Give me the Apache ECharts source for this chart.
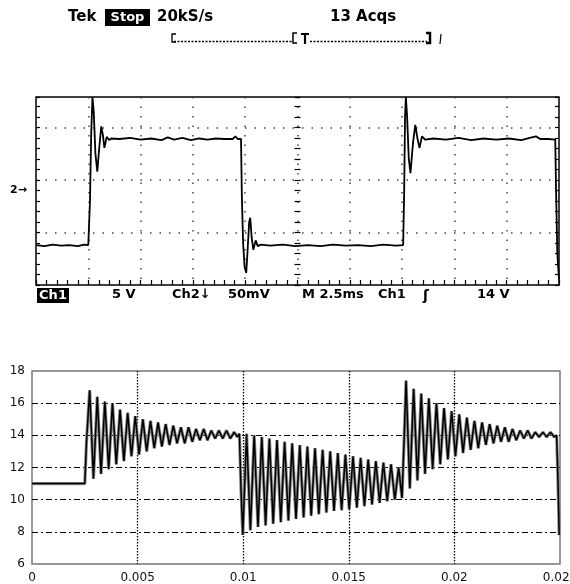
<!DOCTYPE html>
<html>
<head>
<meta charset="utf-8">
<title>Scope capture and simulated response</title>
<script src="https://cdn.jsdelivr.net/npm/echarts@6.0.0/dist/echarts.min.js"></script>
<style>
  html, body { margin: 0; padding: 0; background: #fff; }
  #chart { width: 570px; height: 584px; }
</style>
</head>
<body>
<div id="chart"></div>
<script>
// ---- Oscilloscope capture: time in ms (2.5 ms/div), level in divisions above bottom edge
const scopeTrace = [
  [0, 0.76], [0.4, 0.74], [0.8, 0.77], [1.2, 0.75], [1.6, 0.76], [2.0, 0.74], [2.3, 0.77], [2.5, 0.76],
  [2.58, 1.6], [2.64, 2.9], [2.70, 3.58], [2.76, 3.3], [2.84, 2.5], [2.93, 2.16], [3.02, 2.6], [3.12, 3.02],
  [3.2, 2.85], [3.27, 2.61], [3.38, 2.82], [3.5, 2.76], [3.6, 2.79],
  [4.0, 2.78], [4.5, 2.80], [5.0, 2.77], [5.5, 2.79], [6.0, 2.76], [6.3, 2.81], [6.6, 2.77], [7.0, 2.80],
  [7.4, 2.76], [7.8, 2.79], [8.2, 2.77], [8.6, 2.79], [9.0, 2.78], [9.4, 2.78], [9.53, 2.83], [9.65, 2.78], [9.8, 2.78],
  [9.84, 1.7], [9.9, 0.8], [9.97, 0.35], [10.05, 0.23], [10.12, 0.7], [10.19, 1.2], [10.24, 1.28], [10.31, 0.9],
  [10.39, 0.67], [10.5, 0.85], [10.6, 0.74], [10.75, 0.77],
  [11.2, 0.75], [11.8, 0.77], [12.4, 0.74], [13.0, 0.76], [13.6, 0.74], [14.2, 0.77], [14.8, 0.75], [15.4, 0.76],
  [16.0, 0.74], [16.6, 0.77], [17.2, 0.75], [17.55, 0.76],
  [17.6, 1.8], [17.64, 3.2], [17.68, 3.58], [17.74, 3.2], [17.82, 2.4], [17.9, 2.13], [18.02, 2.7], [18.13, 3.05],
  [18.23, 2.8], [18.33, 2.61], [18.45, 2.83], [18.6, 2.77],
  [19.0, 2.79], [19.6, 2.77], [20.2, 2.80], [20.8, 2.76], [21.4, 2.79], [22.0, 2.77], [22.6, 2.79], [23.2, 2.76],
  [23.6, 2.80], [23.9, 2.83], [24.1, 2.78], [24.5, 2.78], [24.82, 2.77],
  [24.86, 1.8], [24.92, 0.6], [25, 0.1]
];

// ---- Simulated voltage (V) against time (s)
const simHold = [[0, 11], [0.0025, 11]];
const simRiseA = [
  [0.00258, 13.6], [0.00273, 16.8], [0.00291, 11.3], [0.00309, 16.4], [0.00327, 11.6], [0.00345, 16.1],
  [0.00363, 11.9], [0.00381, 16.0], [0.00399, 12.2], [0.00417, 15.6], [0.00435, 12.4], [0.00453, 15.4],
  [0.00471, 12.7], [0.00489, 15.2], [0.00507, 12.8], [0.00525, 15.0], [0.00543, 13.0], [0.00561, 14.9],
  [0.00579, 13.2], [0.00597, 14.8], [0.00615, 13.3], [0.00633, 14.7], [0.00651, 13.4], [0.00669, 14.6],
  [0.00687, 13.5], [0.00705, 14.5], [0.00723, 13.5], [0.00741, 14.5], [0.00759, 13.6], [0.00777, 14.4],
  [0.00795, 13.7], [0.00813, 14.4], [0.00831, 13.7], [0.00849, 14.3], [0.00867, 13.8], [0.00885, 14.3],
  [0.00903, 13.8], [0.00921, 14.3], [0.00939, 13.8], [0.00957, 14.2], [0.00972, 13.9], [0.00982, 14.1]
];
const simFall = [
  [0.0099, 10.5], [0.00998, 7.8], [0.01016, 14.1], [0.01034, 8.1], [0.01052, 14.0], [0.0107, 8.3],
  [0.01088, 13.9], [0.01106, 8.4], [0.01124, 13.8], [0.01142, 8.5], [0.0116, 13.7], [0.01178, 8.6],
  [0.01196, 13.6], [0.01214, 8.7], [0.01232, 13.5], [0.0125, 8.8], [0.01268, 13.4], [0.01286, 8.9],
  [0.01304, 13.3], [0.01322, 9.0], [0.0134, 13.2], [0.01358, 9.1], [0.01376, 13.1], [0.01394, 9.2],
  [0.01412, 13.0], [0.0143, 9.3], [0.01448, 12.9], [0.01466, 9.35], [0.01484, 12.8], [0.01502, 9.4],
  [0.0152, 12.7], [0.01538, 9.5], [0.01556, 12.6], [0.01574, 9.6], [0.01592, 12.5], [0.0161, 9.7],
  [0.01628, 12.4], [0.01646, 9.8], [0.01664, 12.3], [0.01682, 9.9], [0.017, 12.2], [0.01718, 10.0],
  [0.01736, 12.0], [0.01752, 10.1]
];
const simRiseB = [
  [0.01762, 13.8], [0.01771, 17.4], [0.01789, 10.7], [0.01807, 16.9], [0.01825, 11.2], [0.01843, 16.6],
  [0.01861, 11.6], [0.01879, 16.3], [0.01897, 11.9], [0.01915, 16.0], [0.01933, 12.2], [0.01951, 15.7],
  [0.01969, 12.5], [0.01987, 15.5], [0.02005, 12.7], [0.02023, 15.3], [0.02041, 12.9], [0.02059, 15.1],
  [0.02077, 13.1], [0.02095, 14.9], [0.02113, 13.2], [0.02131, 14.8], [0.02149, 13.4], [0.02167, 14.7],
  [0.02185, 13.5], [0.02203, 14.6], [0.02221, 13.6], [0.02239, 14.5], [0.02257, 13.6], [0.02275, 14.4],
  [0.02293, 13.7], [0.02311, 14.3], [0.02329, 13.8], [0.02347, 14.3], [0.02365, 13.8], [0.02383, 14.2],
  [0.02401, 13.9], [0.02419, 14.2], [0.02437, 13.9], [0.02455, 14.2], [0.02473, 13.9], [0.02484, 14.0]
];
const simDrop = [[0.02488, 12.3], [0.02494, 9.2], [0.02496, 7.8]];

// ---- Tick labels and readout texts
const simXLabels = ['0', '0.005', '0.01', '0.015', '0.02', '0.025'];
const headerTexts = ['Tek', 'Stop', '20kS/s', '13 Acqs'];
const scopeReadout = ['Ch1', '5 V', 'Ch2\u2193', '50mV', 'M 2.5ms', 'Ch1', '\u0283', '14 V'];

const simTrace = simHold.concat(simRiseA, simFall, simRiseB, simDrop);

const FONT = '"DejaVu Sans", "Liberation Sans", sans-serif';
const bold = size => 'bold ' + size + 'px ' + FONT;

function txt(x, y, text, font, fill, align) {
  return { type: 'text', x: x, y: y, z: 10,
    style: { text: text, font: font, fill: fill || '#000', align: align || 'left', verticalAlign: 'middle' } };
}
function seg(x1, y1, x2, y2, w, dash) {
  return { type: 'line', z: 10, shape: { x1: x1, y1: y1, x2: x2, y2: y2 },
    style: { stroke: '#000', lineWidth: w, lineDash: dash || null } };
}
function poly(points, w) {
  return { type: 'polyline', z: 10, shape: { points: points }, style: { stroke: '#000', lineWidth: w, fill: null } };
}

const graphics = [
  // header line
  txt(68, 17, headerTexts[0], bold(15)),
  { type: 'rect', z: 9, shape: { x: 105, y: 9, width: 45, height: 17 }, style: { fill: '#000' } },
  txt(127.5, 17.5, headerTexts[1], bold(13), '#fff', 'center'),
  txt(157, 17, headerTexts[2], bold(15)),
  txt(330, 17, headerTexts[3], bold(15)),
  // record-length bar
  poly([[176, 34], [172, 34], [172, 42], [176, 42]], 1.3),
  seg(174, 41.5, 292, 41.5, 1.3, [2, 1.5]),
  poly([[297, 33], [293, 33], [293, 43], [297, 43]], 1.5),
  seg(301, 34, 309, 34, 2),
  seg(305, 34, 305, 44, 2.2),
  seg(310, 41.5, 427, 41.5, 1.3, [2, 1.5]),
  poly([[426, 33], [430, 33], [430, 43], [426, 43]], 2.5),
  seg(441, 34, 440, 44, 1.2),
  // channel 2 ground marker
  txt(10, 190, '2\u2192', bold(11)),
  // readout below the graticule
  { type: 'rect', z: 9, shape: { x: 37, y: 288, width: 32, height: 15 }, style: { fill: '#000' } },
  txt(53, 295.5, scopeReadout[0], bold(13), '#fff', 'center'),
  txt(112, 295, scopeReadout[1], bold(13)),
  txt(172, 295, scopeReadout[2], bold(13)),
  txt(228, 295, scopeReadout[3], bold(13)),
  txt(302, 295, scopeReadout[4], bold(13)),
  txt(378, 295, scopeReadout[5], bold(13)),
  txt(423, 296, scopeReadout[6], bold(14)),
  txt(477, 295, scopeReadout[7], bold(13))
];

const scopeDots = { color: '#444', type: [1.5, 8], width: 1.5 };
const tickStyle = { color: '#000', width: 1.2 };
const scopeRect = { left: 36, top: 97, width: 523, height: 188 };

// tick-only axis helpers for the scope graticule
function scopeTickX(grid, inside, len) {
  return { gridIndex: grid, type: 'value', min: 0, max: 25, interval: 2.5, position: 'bottom',
    axisLine: { show: false, onZero: false }, axisLabel: { show: false }, splitLine: { show: false },
    axisTick: { show: true, inside: inside, length: len, lineStyle: tickStyle },
    minorTick: { show: true, splitNumber: 5, length: len, lineStyle: tickStyle } };
}
function scopeTickY(grid, position, offset, inside, len) {
  return { gridIndex: grid, type: 'value', min: 0, max: 3.58, interval: 1, position: position, offset: offset,
    axisLine: { show: false, onZero: false }, axisLabel: { show: false }, splitLine: { show: false },
    axisTick: { show: true, inside: inside, length: len, lineStyle: tickStyle },
    minorTick: { show: true, splitNumber: 5, length: len, lineStyle: tickStyle } };
}

const option = {
  animation: false,
  backgroundColor: '#fff',
  grid: [
    Object.assign({ show: true, borderColor: '#000', borderWidth: 1.5, backgroundColor: 'transparent',
      outerBoundsMode: 'none' }, scopeRect),
    { left: 32, top: 371, width: 528, height: 193, show: true, borderColor: '#777', borderWidth: 1.5,
      backgroundColor: 'transparent', outerBoundsMode: 'none' },
    // overlays on the scope graticule carrying its edge ticks
    Object.assign({ show: false, outerBoundsMode: 'none' }, scopeRect),
    Object.assign({ show: false, outerBoundsMode: 'none' }, scopeRect)
  ],
  xAxis: [
    { gridIndex: 0, type: 'value', min: 0, max: 25, interval: 2.5, position: 'bottom',
      axisLine: { show: false, onZero: false }, axisLabel: { show: false }, axisTick: { show: false },
      splitLine: { show: true, showMinLine: false, showMaxLine: false, lineStyle: scopeDots } },
    { gridIndex: 1, type: 'value', min: 0, max: 0.025, interval: 0.005, position: 'bottom',
      axisLine: { show: false, onZero: false }, axisTick: { show: false },
      axisLabel: { color: '#111', fontSize: 12, fontFamily: FONT, margin: 8,
        formatter: v => simXLabels[Math.round(v / 0.005)] },
      splitLine: { show: true, showMinLine: false, showMaxLine: false,
        lineStyle: { color: '#000', type: [1.5, 1.5], width: 1.3 } } },
    scopeTickX(2, true, 5),
    { gridIndex: 3, type: 'value', min: 0, max: 25, show: false }
  ],
  yAxis: [
    { gridIndex: 0, type: 'value', min: 0, max: 3.58, interval: 1,
      axisLine: { show: false, onZero: false }, axisLabel: { show: false }, axisTick: { show: false },
      splitLine: { show: true, showMinLine: false, showMaxLine: false, lineStyle: scopeDots } },
    // centre graticule line ticks, straddling the middle vertical line
    scopeTickY(0, 'left', -264.5, false, 6),
    { gridIndex: 1, type: 'value', min: 6, max: 18, interval: 2,
      axisLine: { show: false, onZero: false }, axisTick: { show: false },
      axisLabel: { color: '#111', fontSize: 12, fontFamily: FONT, margin: 7 },
      splitLine: { show: true, showMinLine: false, showMaxLine: false,
        lineStyle: { color: '#000', type: [6, 3, 2, 3], width: 1.2 } } },
    scopeTickY(2, 'left', 0, true, 4),
    scopeTickY(3, 'right', 0, true, 4)
  ],
  series: [
    { type: 'line', xAxisIndex: 0, yAxisIndex: 0, data: scopeTrace, showSymbol: false,
      clip: true, lineStyle: { color: '#000', width: 1.8 }, z: 5 },
    // soft grey body under the simulated trace
    { type: 'line', xAxisIndex: 1, yAxisIndex: 2, data: simTrace, showSymbol: false,
      clip: true, lineStyle: { color: '#8a8a8a', width: 3.2 }, z: 4 },
    { type: 'line', xAxisIndex: 1, yAxisIndex: 2, data: simTrace, showSymbol: false,
      clip: true, lineStyle: { color: '#000', width: 1.5 }, z: 5 }
  ],
  graphic: graphics
};

const chart = echarts.init(document.getElementById('chart'), null, { renderer: 'canvas' });
chart.setOption(option);
</script>
</body>
</html>
